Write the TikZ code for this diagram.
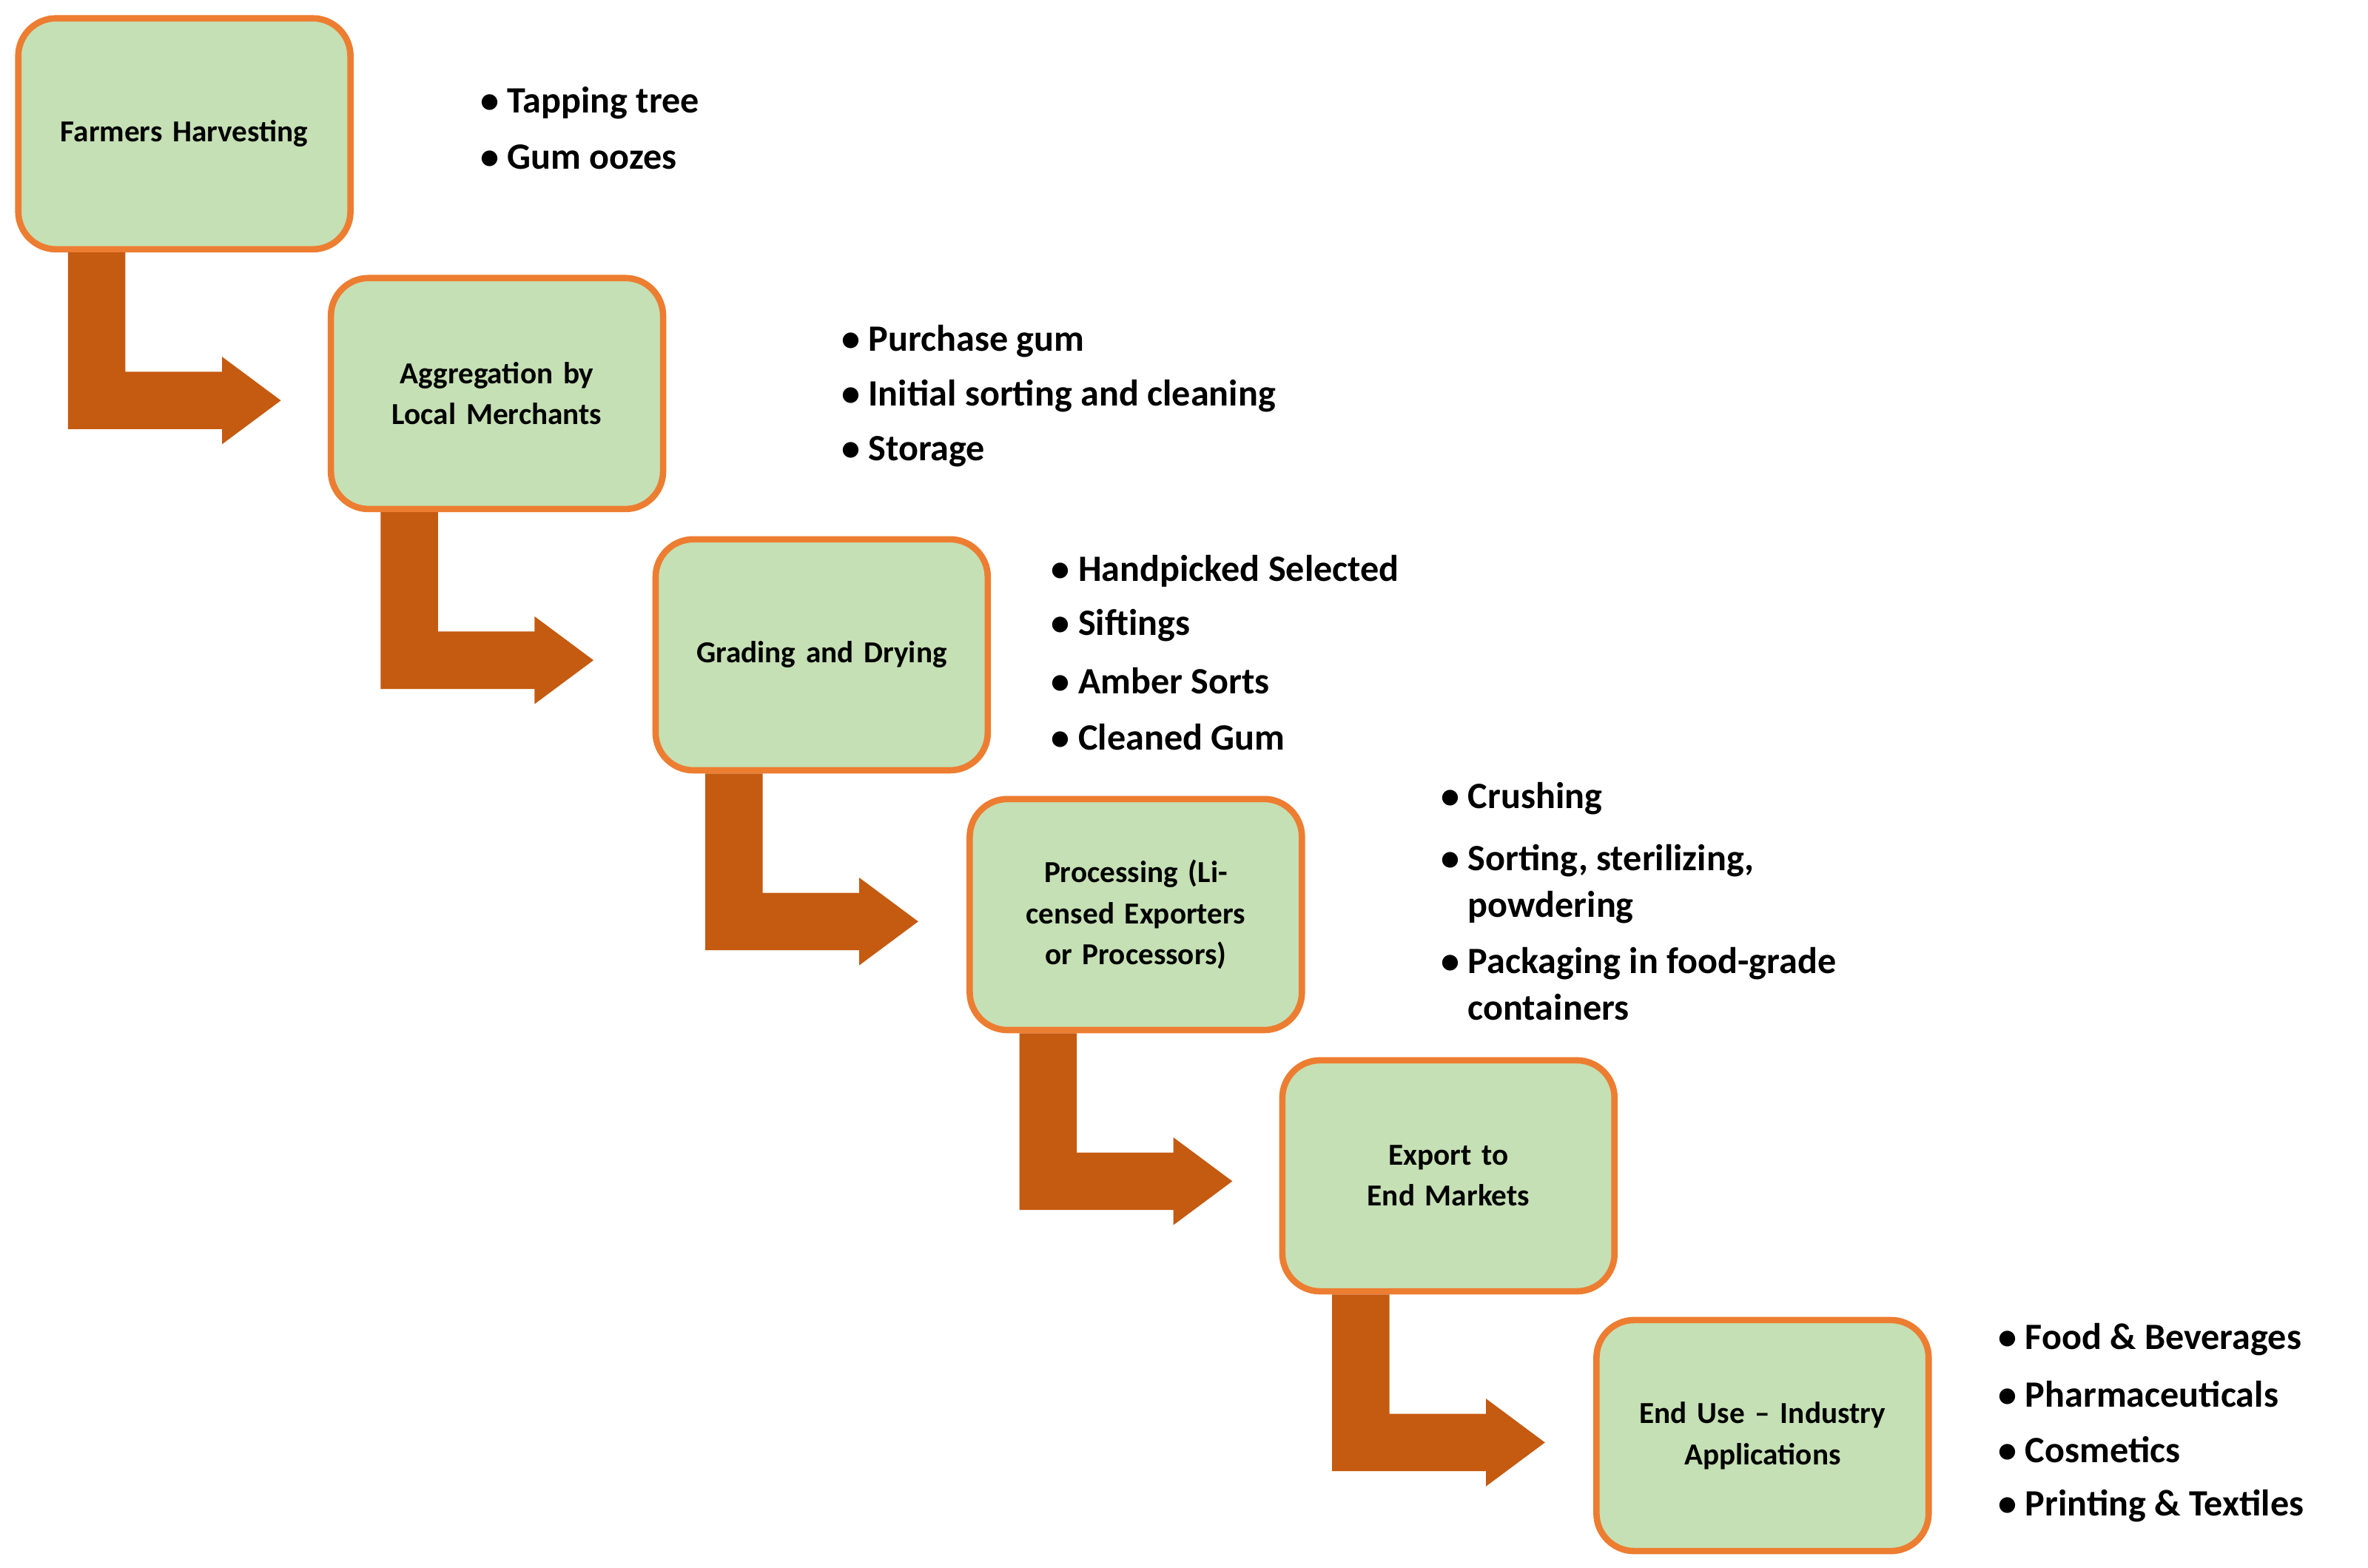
\documentclass[tikz,border=0pt]{standalone}
\usepackage{fontspec}
\setmainfont{Carlito}
\usetikzlibrary{positioning}
\definecolor{boxfill}{HTML}{C5E0B4}
\definecolor{boxline}{HTML}{ED7D31}
\definecolor{flowcol}{HTML}{C55A11}
\tikzset{
  stage/.style={draw=boxline, fill=boxfill, line width=2.4pt, rounded corners=0.5cm,
    minimum width=4.4cm, minimum height=3.06cm, text width=3.6cm, align=center,
    font=\bfseries\fontsize{11.5}{15.5}\selectfont, anchor=north west},
  item/.style={anchor=west, align=left, font=\bfseries\fontsize{14}{17.5}\selectfont},
  flow/.style={fill=flowcol}
}
\newcommand{\flowarrow}[1]{%
  \fill[flow, shift={(#1.south west)}] (35,0) -- (73,0) -- (73,79) -- (137,79)
    -- (137,69) -- (176,98) -- (137,127) -- (137,117) -- (35,117) -- cycle;}
\begin{document}
\begin{tikzpicture}[x=0.02cm, y=-0.02cm]
  \useasboundingbox (0,0) rectangle (1568,1038);
  \node[stage] (b1) at (10,10) {Farmers Harvesting};
  \node[stage] (b2) at (217,182) {Aggregation by Local Merchants};
  \node[stage] (b3) at (432,355) {Grading and Drying};
  \node[stage] (b4) at (640,527) {Processing (Licensed Exporters or Processors)};
  \node[stage] (b5) at (847,700) {Export to End Markets};
  \node[stage] (b6) at (1055,872) {End Use -- Industry Applications};

  \flowarrow{b1}
  \flowarrow{b2}
  \flowarrow{b3}
  \flowarrow{b4}
  \flowarrow{b5}

  % bullet lists
  \node[item] (t1) at (312,68) {\textbullet\ Tapping tree};
  \node[item] (t2) at (312,104) {\textbullet\ Gum oozes};
  \node[item] (a1) at (551,226) {\textbullet\ Purchase gum};
  \node[item] (a2) at (551,262) {\textbullet\ Initial sorting and cleaning};
  \node[item] (a3) at (551,299) {\textbullet\ Storage};
  \node[item] (g1) at (690,378) {\textbullet\ Handpicked Selected};
  \node[item] (g2) at (690,414) {\textbullet\ Siftings};
  \node[item] (g3) at (690,451) {\textbullet\ Amber Sorts};
  \node[item] (g4) at (690,488) {\textbullet\ Cleaned Gum};
  \node[item] (p1) at (948,529) {\textbullet\ Crushing};
  \node[item, anchor=north west] (p2) at (948,553) {\textbullet\ Sorting, sterilizing,\\ \phantom{\textbullet\ }powdering};
  \node[item, anchor=north west] (p3) at (948,621) {\textbullet\ Packaging in food-grade\\ \phantom{\textbullet\ }containers};
  \node[item] (e1) at (1317,887) {\textbullet\ Food \& Beverages};
  \node[item] (e2) at (1317,923) {\textbullet\ Pharmaceuticals};
  \node[item] (e3) at (1317,960) {\textbullet\ Cosmetics};
  \node[item] (e4) at (1317,997) {\textbullet\ Printing \& Textiles};
\end{tikzpicture}
\end{document}
